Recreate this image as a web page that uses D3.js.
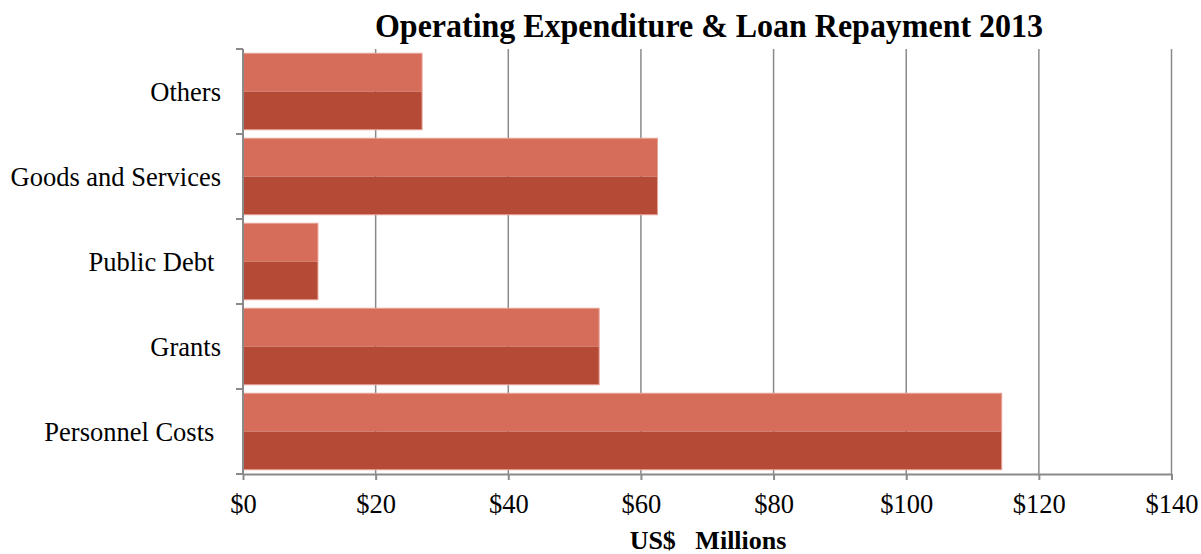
<!DOCTYPE html>
<html><head><meta charset="utf-8">
<script src="https://cdn.jsdelivr.net/npm/d3@7"></script>
<style>body{margin:0;background:#fff}svg{display:block}</style>
</head><body>
<script>
const categories = ["Others", "Goods and Services", "Public Debt ", "Grants", "Personnel Costs "];
const valuesUpper = [27.0, 62.5, 11.3, 53.7, 114.4];
const valuesLower = [27.0, 62.5, 11.3, 53.7, 114.4];
const tickValues = [0, 20, 40, 60, 80, 100, 120, 140];
const tickLabels = ["$0", "$20", "$40", "$60", "$80", "$100", "$120", "$140"];
const titleText = "Operating Expenditure & Loan Repayment 2013";
const xAxisTitle = "US$   Millions";

const W = 1201, H = 554;
const m = {left: 243, right: 30, top: 49, bottom: 80};
const svg = d3.select("body").append("svg").attr("width", W).attr("height", H);
const font = "'Liberation Serif','Times New Roman',serif";

const x = d3.scaleLinear().domain([0, 140]).range([m.left, 1171.5]);
const y = d3.scaleBand().domain(categories).range([m.top, 474]).paddingInner(0.1).paddingOuter(0.05);
const ySub = d3.scaleBand().domain(["upper", "lower"]).range([0, y.bandwidth()]);

// grid lines
svg.append("g").selectAll("line").data(tickValues.slice(1)).join("line")
  .attr("x1", d => x(d)).attr("x2", d => x(d))
  .attr("y1", m.top).attr("y2", 474)
  .attr("stroke", "#8a8a8a").attr("stroke-width", 1.5);

// bars
const rows = categories.map((c, i) => ({c, upper: valuesUpper[i], lower: valuesLower[i]}));
const g = svg.append("g");
g.selectAll("rect.u").data(rows).join("rect").attr("class", "u")
  .attr("x", x(0)).attr("y", d => y(d.c) + ySub("upper"))
  .attr("width", d => x(d.upper) - x(0)).attr("height", ySub.bandwidth())
  .attr("fill", "#D66C5A");
g.selectAll("rect.l").data(rows).join("rect").attr("class", "l")
  .attr("x", x(0)).attr("y", d => y(d.c) + ySub("lower"))
  .attr("width", d => x(d.lower) - x(0)).attr("height", ySub.bandwidth())
  .attr("fill", "#B54A36");
g.selectAll("rect.o").data(rows).join("rect").attr("class", "o")
  .attr("x", x(0)).attr("y", d => y(d.c))
  .attr("width", d => x(d.upper) - x(0)).attr("height", y.bandwidth())
  .attr("fill", "none").attr("stroke", "#E8A397").attr("stroke-width", 1);

// x axis
const xAxis = d3.axisBottom(x).tickValues(tickValues).tickFormat((d, i) => tickLabels[i]).tickSize(6).tickSizeOuter(0);
const xa = svg.append("g").attr("transform", "translate(0,474)").call(xAxis);
xa.select(".domain").attr("stroke", "#8a8a8a").attr("stroke-width", 2);
xa.selectAll(".tick line").attr("stroke", "#8a8a8a").attr("stroke-width", 2);
xa.selectAll(".tick text").attr("font-family", font).attr("font-size", 26.5).attr("fill", "#000")
  .attr("y", 39).attr("dy", 0);

// y axis with ticks at band boundaries
const ya = svg.append("g").attr("transform", `translate(${m.left},0)`);
ya.append("line").attr("x1", 0).attr("x2", 0).attr("y1", m.top).attr("y2", 474)
  .attr("stroke", "#8a8a8a").attr("stroke-width", 2);
const bounds = d3.range(categories.length + 1).map(i => m.top + i * (474 - m.top) / categories.length);
ya.selectAll("line.t").data(bounds).join("line").attr("class", "t")
  .attr("x1", -7).attr("x2", 0).attr("y1", d => d).attr("y2", d => d)
  .attr("stroke", "#8a8a8a").attr("stroke-width", 2);
ya.selectAll("text").data(categories).join("text")
  .attr("x", -22).attr("y", d => y(d) + y.bandwidth() / 2)
  .attr("dy", "0.35em").attr("text-anchor", "end")
  .attr("font-family", font).attr("font-size", 26.5).attr("fill", "#000")
  .style("white-space", "pre")
  .text(d => d);

// title
svg.append("text").attr("x", 709).attr("y", 37).attr("text-anchor", "middle")
  .attr("font-family", font).attr("font-weight", "bold").attr("font-size", 33).attr("fill", "#000")
  .attr("textLength", 668).attr("lengthAdjust", "spacingAndGlyphs")
  .text(titleText);
// x axis title
svg.append("text").attr("x", 708).attr("y", 549).attr("text-anchor", "middle")
  .attr("font-family", font).attr("font-weight", "bold").attr("font-size", 26).attr("fill", "#000")
  .style("white-space", "pre")
  .text(xAxisTitle);
</script>
</body></html>
